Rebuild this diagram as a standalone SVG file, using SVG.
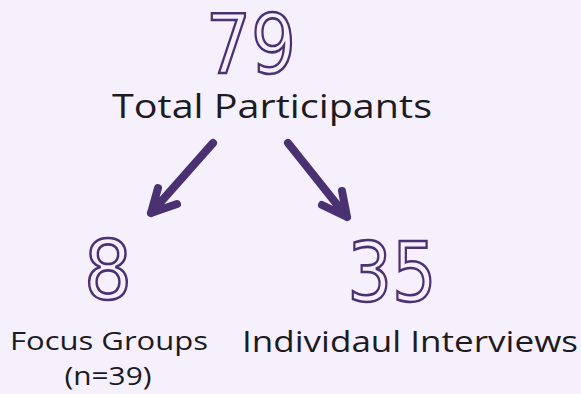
<svg xmlns="http://www.w3.org/2000/svg" width="581" height="394" viewBox="0 0 581 394">
<style>
.big{font-family:"DejaVu Sans","Liberation Sans",sans-serif;font-size:82px;fill:#f6f0fd;stroke:#4a3272;stroke-width:2.6px;}
.lbl{font-family:"Open Sans","Liberation Sans",sans-serif;fill:#1c1a22;}
.arr{fill:none;stroke:#4a3272;stroke-width:8;stroke-linecap:round;stroke-linejoin:round;}
</style>
<rect width="581" height="394" fill="#f6f0fd"/>
<g id="total">
<text class="big" x="251" y="73" text-anchor="middle" textLength="90" lengthAdjust="spacingAndGlyphs">79</text>
<text class="lbl" x="272" y="118" text-anchor="middle" font-size="33" textLength="320" lengthAdjust="spacingAndGlyphs">Total Participants</text>
</g>
<g id="focus">
<text class="big" x="108" y="299" text-anchor="middle" textLength="48" lengthAdjust="spacingAndGlyphs">8</text>
<text class="lbl" x="109" y="350" text-anchor="middle" font-size="26" textLength="198" lengthAdjust="spacingAndGlyphs">Focus Groups</text>
<text class="lbl" x="108" y="385" text-anchor="middle" font-size="26" textLength="87" lengthAdjust="spacingAndGlyphs">(n=39)</text>
</g>
<g id="interviews">
<text class="big" x="392" y="301" text-anchor="middle" textLength="89" lengthAdjust="spacingAndGlyphs">35</text>
<text class="lbl" x="410" y="352" text-anchor="middle" font-size="30" textLength="336" lengthAdjust="spacingAndGlyphs">Individaul Interviews</text>
</g>
<g id="connectors">
<path class="arr" d="M213,143 L151,213 M158,188 L151,213 L177,204"/>
<path class="arr" d="M288,143 L347,217 M342,191 L347,217 L322,205"/>
</g>
</svg>
